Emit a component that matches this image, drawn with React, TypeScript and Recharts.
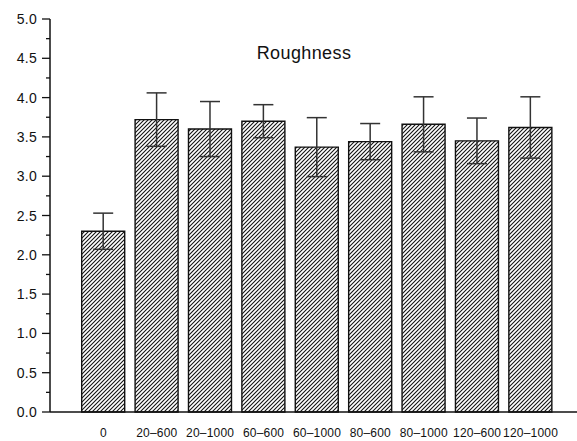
import { BarChart, Bar, XAxis, YAxis, ErrorBar, Customized } from "recharts";

const groups = ["0", "20–600", "20–1000", "60–600", "60–1000", "80–600", "80–1000", "120–600", "120–1000"];
const roughness = [2.3, 3.72, 3.6, 3.7, 3.37, 3.44, 3.66, 3.45, 3.62];
const roughnessErr = [0.23, 0.34, 0.35, 0.21, 0.375, 0.23, 0.35, 0.29, 0.39];
const yTicks = [0, 0.25, 0.5, 0.75, 1, 1.25, 1.5, 1.75, 2, 2.25, 2.5, 2.75, 3, 3.25, 3.5, 3.75, 4, 4.25, 4.5, 4.75, 5];
const topTicks = [-1, -0.5, 0, 0.5, 1, 1.5, 2, 2.5, 3, 3.5, 4, 4.5, 5, 5.5, 6, 6.5, 7, 7.5, 8, 8.5];

const rows = groups.map((g, i) => ({ idx: i, name: g, value: roughness[i], err: roughnessErr[i] }));

const font = "'Liberation Sans', Arial, sans-serif";

function YTick(props: any) {
  const { x, y, payload } = props;
  const v = payload.value as number;
  const major = Math.abs(v * 2 - Math.round(v * 2)) < 1e-6;
  return (
    <g>
      <line x1={x - (major ? 8 : 4)} x2={x} y1={y} y2={y} stroke="#111" strokeWidth={1.3} />
      {major && (
        <text x={x - 13} y={y} dy={5} textAnchor="end" fontSize={14} letterSpacing={0.3} fill="#111" fontFamily={font}>
          {v.toFixed(1)}
        </text>
      )}
    </g>
  );
}

function XTick(props: any) {
  const { x, y, payload } = props;
  return (
    <text x={x} y={y} dy={17} textAnchor="middle" fontSize={12} letterSpacing={0.2} fill="#111" fontFamily={font}>
      {groups[payload.value]}
    </text>
  );
}

export default function App() {
  return (
    <div style={{ position: "absolute", left: 0, top: 0, background: "#fff" }}>
      <BarChart width={577} height={441} data={rows} margin={{ top: 19, right: 0, bottom: 0, left: 0 }}>
        <defs>
          <pattern id="hatch" patternUnits="userSpaceOnUse" width={4} height={4}>
            <rect width={4} height={4} fill="#fff" />
            <path d="M-1,1 l2,-2 M0,4 l4,-4 M3,5 l2,-2" stroke="#111" strokeWidth={1.1} />
          </pattern>
        </defs>
        <XAxis
          dataKey="idx"
          type="number"
          domain={[-1, 8.87]}
          ticks={[0, 1, 2, 3, 4, 5, 6, 7, 8]}
          allowDataOverflow
          height={29}
          tickLine={false}
          tick={<XTick />}
          axisLine={{ stroke: "#111", strokeWidth: 1.5 }}
        />
        <XAxis
          xAxisId="top"
          dataKey="idx"
          type="number"
          orientation="top"
          domain={[-1, 8.87]}
          ticks={topTicks}
          allowDataOverflow
          height={0}
          tick={false}
          tickSize={2}
          tickLine={{ stroke: "#111" }}
          axisLine={{ stroke: "#111", strokeWidth: 1.5 }}
        />
        <YAxis
          type="number"
          domain={[0, 5]}
          ticks={yTicks}
          interval={0}
          width={50}
          tickLine={false}
          tickSize={0}
          tickMargin={0}
          tick={<YTick />}
          axisLine={{ stroke: "#111", strokeWidth: 1.5 }}
        />
        <Bar dataKey="value" barSize={43} fill="url(#hatch)" stroke="#111" strokeWidth={1.4} isAnimationActive={false}>
          <ErrorBar dataKey="err" width={10} stroke="#333" strokeWidth={1.5} />
        </Bar>
        <Customized
          component={() => (
            <text x={304} y={59} textAnchor="middle" fontSize={18} letterSpacing={0.4} fill="#111" fontFamily={font}>
              Roughness
            </text>
          )}
        />
      </BarChart>
    </div>
  );
}
